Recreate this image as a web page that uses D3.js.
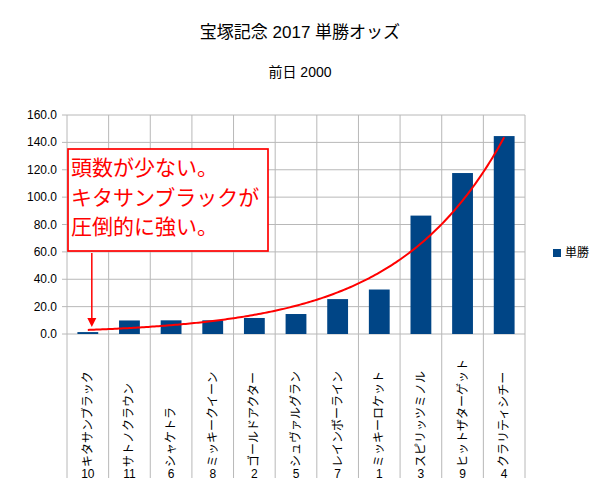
<!DOCTYPE html>
<html>
<head>
<meta charset="utf-8">
<script src="https://cdn.jsdelivr.net/npm/d3@7"></script>
<style>
  body { margin: 0; background: #fff; }
  text { font-family: "Liberation Sans", Arial, "Noto Sans CJK JP", sans-serif; }
</style>
</head>
<body>
<div id="chart"></div>
<script>
// horse numbers and names (category axis)
let horseNums = ["10", "11", "6", "8", "2", "5", "7", "1", "3", "9", "4"];
let horseNames = ["キタサンブラック", "サトノクラウン", "シャケトラ", "ミッキークイーン", "ゴールドアクター",
    "シュヴァルグラン", "レインボーライン", "ミッキーロケット", "スピリッツミノル", "ヒットザターゲット", "クラリティシチー"];
// win odds the day before
let winOdds = [1.4, 9.9, 10.0, 10.0, 11.7, 14.6, 25.5, 32.5, 86.5, 117.6, 144.6];
let yTicks = [0, 20, 40, 60, 80, 100, 120, 140, 160];
let noteLines = ["頭数が少ない。", "キタサンブラックが", "圧倒的に強い。"];

let margin = {top: 115, left: 67}
    , width = 458
    , height = 219
    , labelBottom = 478;

let svg = d3.select("#chart").append("svg")
    .attr("width", 600)
    .attr("height", 504);

svg.append("text")
    .attr("x", 300).attr("y", 32)
    .attr("text-anchor", "middle")
    .attr("dominant-baseline", "central")
    .style("font-size", "17px")
    .text("宝塚記念 2017 単勝オッズ");

svg.append("text")
    .attr("x", 300).attr("y", 72)
    .attr("text-anchor", "middle")
    .attr("dominant-baseline", "central")
    .style("font-size", "14px")
    .text("前日 2000");

let g = svg.append("g")
    .attr("transform", "translate(" + margin.left + "," + margin.top + ")");

let x = d3.scaleBand()
    .domain(horseNames)
    .range([0, width])
    .paddingInner(0.5)
    .paddingOuter(0.25);

let y = d3.scaleLinear()
    .domain([0, 160])
    .range([height, 0]);

let gridColor = "#b8b8b8";

// horizontal grid + ticks
g.selectAll(".hgrid")
    .data(yTicks)
    .enter().append("line")
    .attr("x1", -5).attr("x2", width)
    .attr("y1", d => y(d)).attr("y2", d => y(d))
    .style("stroke", gridColor)
    .style("stroke-width", 1);

// vertical grid at category boundaries, running down through the label area
let bounds = horseNames.map(d => x(d) - x.step() * x.paddingInner() / 2);
bounds.push(width);
g.selectAll(".vgrid")
    .data(bounds)
    .enter().append("line")
    .attr("x1", d => d).attr("x2", d => d)
    .attr("y1", 0).attr("y2", labelBottom - margin.top)
    .style("stroke", gridColor)
    .style("stroke-width", 1);

g.selectAll(".ylabel")
    .data(yTicks)
    .enter().append("text")
    .attr("x", -10)
    .attr("y", d => y(d))
    .attr("text-anchor", "end")
    .attr("dominant-baseline", "central")
    .style("font-size", "12px")
    .text(d3.format(".1f"));

g.selectAll(".bar")
    .data(winOdds)
    .enter().append("rect")
    .attr("x", (d, i) => x(horseNames[i]))
    .attr("y", d => y(d))
    .attr("width", x.bandwidth())
    .attr("height", d => height - y(d))
    .style("fill", "#004586");

// category labels: rotated name above a horizontal number
horseNames.forEach(function (name, i) {
    let cx = x(name) + x.bandwidth() / 2;
    g.append("text")
        .attr("transform", "translate(" + cx + "," + (labelBottom - margin.top - 11) + ") rotate(-90)")
        .attr("text-anchor", "start")
        .attr("dominant-baseline", "central")
        .style("font-size", "12px")
        .text(name);
    g.append("text")
        .attr("x", cx)
        .attr("y", labelBottom - margin.top)
        .attr("text-anchor", "middle")
        .style("font-size", "12px")
        .text(horseNums[i]);
});

// exponential trend line fitted to the odds
let n = winOdds.length;
let xs = d3.range(1, n + 1);
let ly = winOdds.map(Math.log);
let mx = d3.mean(xs), my = d3.mean(ly);
let b = d3.sum(xs, (v, i) => (v - mx) * (ly[i] - my)) / d3.sum(xs, v => (v - mx) * (v - mx));
let a = my - b * mx;
let tx = d3.scaleLinear()
    .domain([1, n])
    .range([x(horseNames[0]) + x.bandwidth() / 2, x(horseNames[n - 1]) + x.bandwidth() / 2]);
let trend = d3.range(1, n + 0.001, 0.05).map(t => [tx(t), y(Math.exp(a + b * t))]);
g.append("path")
    .datum(trend)
    .attr("d", d3.line())
    .style("fill", "none")
    .style("stroke", "#ff0000")
    .style("stroke-width", 2);

// note box and arrow
svg.append("rect")
    .attr("x", 68).attr("y", 149)
    .attr("width", 200).attr("height", 102)
    .style("fill", "#fff")
    .style("stroke", "#ff0000")
    .style("stroke-width", 1.7);

svg.selectAll(".note")
    .data(noteLines)
    .enter().append("text")
    .attr("x", 71)
    .attr("y", (d, i) => 166 + i * 29.5)
    .attr("dominant-baseline", "central")
    .style("font-family", "'Noto Sans CJK JP', sans-serif")
    .style("font-size", "21px")
    .style("fill", "#ff0000")
    .text(d => d);

let ax = margin.left + x(horseNames[0]) + x.bandwidth() / 2 + 4;
svg.append("line")
    .attr("x1", ax).attr("x2", ax)
    .attr("y1", 253).attr("y2", 319)
    .style("stroke", "#ff0000")
    .style("stroke-width", 1.5);
svg.append("path")
    .attr("d", "M" + (ax - 4.5) + ",318 L" + (ax + 4.5) + ",318 L" + ax + ",327 Z")
    .style("fill", "#ff0000");

// legend
svg.append("rect")
    .attr("x", 553).attr("y", 249)
    .attr("width", 8).attr("height", 8)
    .style("fill", "#004586");
svg.append("text")
    .attr("x", 565).attr("y", 253)
    .attr("dominant-baseline", "central")
    .style("font-size", "12px")
    .text("単勝");
</script>
</body>
</html>
